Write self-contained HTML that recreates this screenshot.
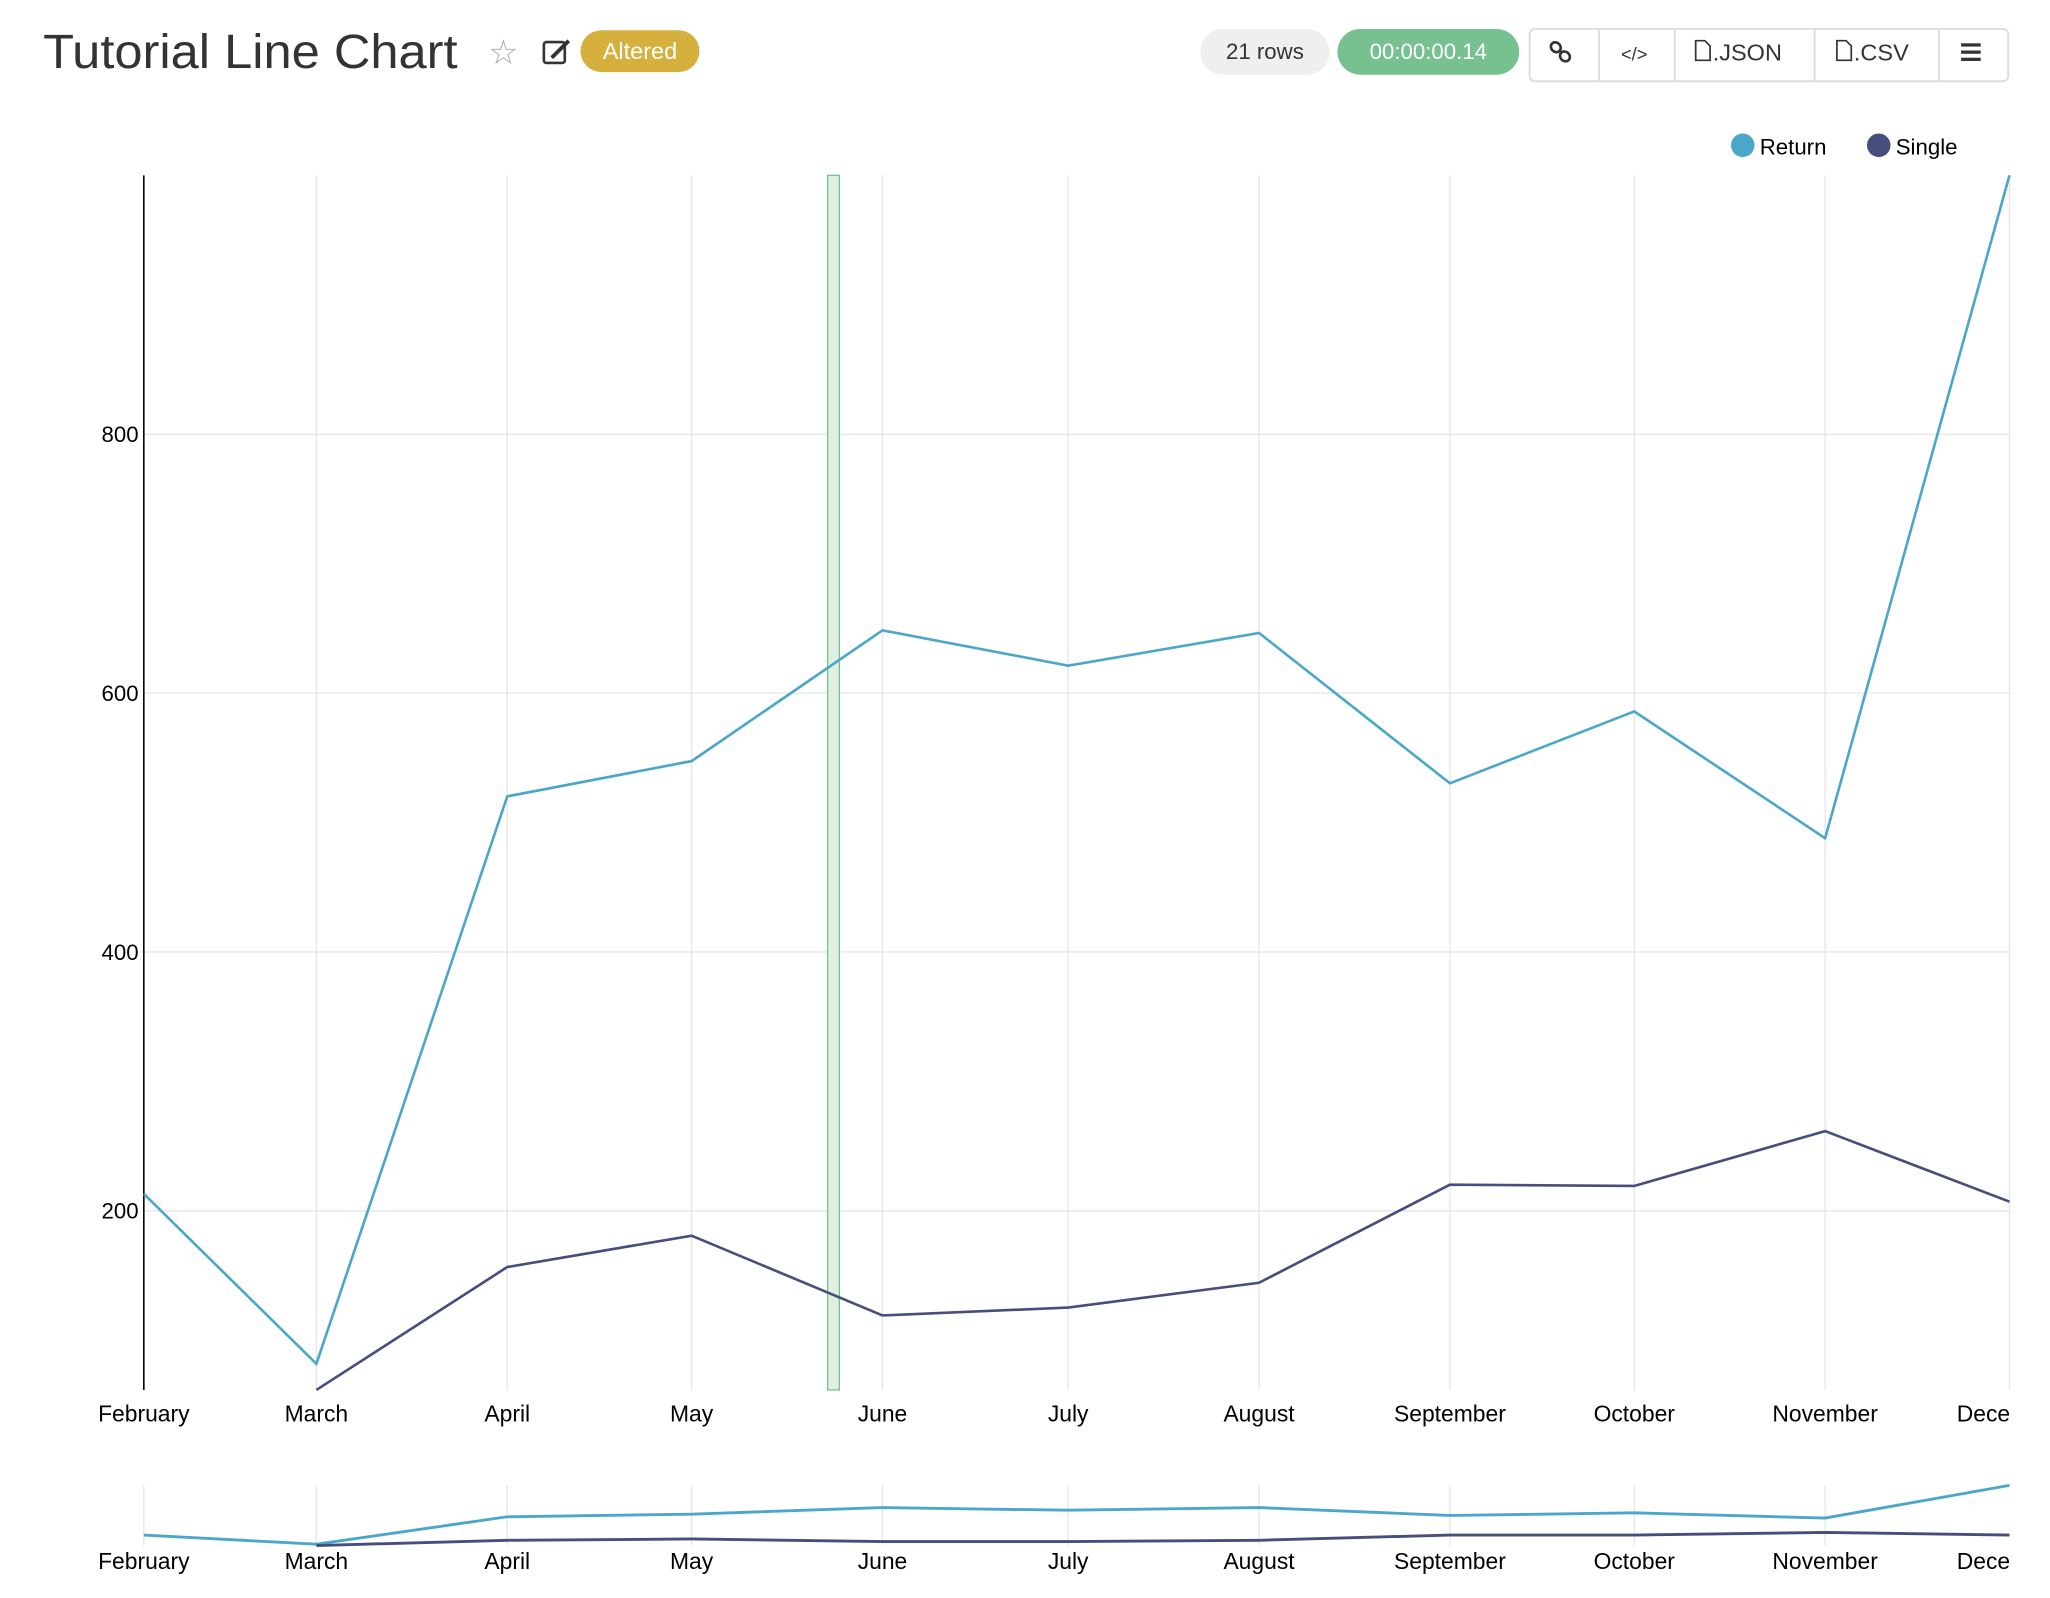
<!DOCTYPE html>
<html><head><meta charset="utf-8"><style>html,body{margin:0;padding:0;background:#fff}svg{display:block}text{font-family:"Liberation Sans",sans-serif}</style></head>
<body>
<svg width="2050" height="1598" viewBox="0 0 1568 1222" xmlns="http://www.w3.org/2000/svg">
<defs><clipPath id="c"><rect x="0" y="0" width="1538" height="1222"/></clipPath></defs>
<rect width="1568" height="1222" fill="#fff"/>
<!-- header -->
<text x="33" y="52" font-size="37" fill="#333" textLength="317" lengthAdjust="spacingAndGlyphs">Tutorial Line Chart</text>
<text x="385" y="49" font-size="26" fill="#aaa" text-anchor="middle">☆</text>
<rect x="416" y="32" width="16" height="16" rx="2" fill="none" stroke="#333" stroke-width="2"/>
<line x1="422" y1="44" x2="435" y2="31" stroke="#333" stroke-width="3"/>
<rect x="444" y="23" width="91" height="32" rx="16" fill="#d6b03c"/>
<text x="489.5" y="45" font-size="18" fill="#fff" text-anchor="middle">Altered</text>
<rect x="918" y="22" width="99" height="35" rx="17.5" fill="#efefef"/>
<text x="967.5" y="45" font-size="17" fill="#333" text-anchor="middle">21 rows</text>
<rect x="1023" y="22" width="139" height="35" rx="17.5" fill="#77c08f"/>
<text x="1092.5" y="45" font-size="17" fill="#fff" text-anchor="middle">00:00:00.14</text>
<rect x="1170" y="22" width="366" height="40" rx="4" fill="#fff" stroke="#ddd" stroke-width="1.5"/>
<g stroke="#ddd" stroke-width="1.5"><line x1="1223" y1="22" x2="1223" y2="62"/><line x1="1281" y1="22" x2="1281" y2="62"/><line x1="1388" y1="22" x2="1388" y2="62"/><line x1="1483" y1="22" x2="1483" y2="62"/></g>
<g fill="none" stroke="#333" stroke-width="2"><ellipse cx="1190" cy="36" rx="4" ry="3.5" transform="rotate(45 1190 36)"/><ellipse cx="1197" cy="43" rx="4" ry="3.5" transform="rotate(45 1197 43)"/></g>
<text x="1250" y="46" font-size="14" fill="#333" text-anchor="middle">&lt;/&gt;</text>
<path d="M1297 31 h7 l4 4 v11 h-11 z" fill="none" stroke="#333" stroke-width="1.3"/>
<text x="1310" y="46" font-size="18" fill="#333">.JSON</text>
<path d="M1405 31 h7 l4 4 v11 h-11 z" fill="none" stroke="#333" stroke-width="1.3"/>
<text x="1418" y="46" font-size="18" fill="#333">.CSV</text>
<g fill="#333"><rect x="1500" y="33" width="15" height="2.5"/><rect x="1500" y="38.5" width="15" height="2.5"/><rect x="1500" y="44" width="15" height="2.5"/></g>
<!-- legend -->
<circle cx="1333" cy="111" r="9" fill="#4aa7c9"/><text x="1346" y="118" font-size="17" fill="#000">Return</text>
<circle cx="1437" cy="111" r="9" fill="#454e7c"/><text x="1450" y="118" font-size="17" fill="#000">Single</text>
<!-- main chart grid -->
<g stroke="#e5e5e5" stroke-width="1">
<line x1="110" y1="332" x2="1537" y2="332"/><line x1="110" y1="530" x2="1537" y2="530"/><line x1="110" y1="728" x2="1537" y2="728"/><line x1="110" y1="926" x2="1537" y2="926"/>
<line x1="242" y1="134" x2="242" y2="1063"/><line x1="388" y1="134" x2="388" y2="1063"/><line x1="529" y1="134" x2="529" y2="1063"/><line x1="675" y1="134" x2="675" y2="1063"/><line x1="817" y1="134" x2="817" y2="1063"/><line x1="963" y1="134" x2="963" y2="1063"/><line x1="1109" y1="134" x2="1109" y2="1063"/><line x1="1250" y1="134" x2="1250" y2="1063"/><line x1="1396" y1="134" x2="1396" y2="1063"/><line x1="1537" y1="134" x2="1537" y2="1063"/>
</g>
<line x1="110" y1="134" x2="110" y2="1063" stroke="#000" stroke-width="1.2"/>
<g font-size="17" fill="#000" text-anchor="end"><text x="106" y="338">800</text><text x="106" y="536">600</text><text x="106" y="734">400</text><text x="106" y="932">200</text></g>
<rect x="633" y="134" width="9" height="929" fill="#dff0e3" stroke="#77c08f" stroke-width="1"/>
<polyline fill="none" stroke="#4aa7c9" stroke-width="2" points="110,913 242,1043 388,609 529,582 675,482 817,509 963,484 1109,599 1250,544 1396,641 1537,134"/>
<polyline fill="none" stroke="#454e7c" stroke-width="2" points="242,1063 388,969 529,945 675,1006 817,1000 963,981 1109,906 1250,907 1396,865 1537,919"/>
<g font-size="17.5" fill="#000" text-anchor="middle" clip-path="url(#c)">
<text x="110" y="1087">February</text><text x="242" y="1087">March</text><text x="388" y="1087">April</text><text x="529" y="1087">May</text><text x="675" y="1087">June</text><text x="817" y="1087">July</text><text x="963" y="1087">August</text><text x="1109" y="1087">September</text><text x="1250" y="1087">October</text><text x="1396" y="1087">November</text><text x="1537" y="1087">December</text>
<text x="110" y="1200">February</text><text x="242" y="1200">March</text><text x="388" y="1200">April</text><text x="529" y="1200">May</text><text x="675" y="1200">June</text><text x="817" y="1200">July</text><text x="963" y="1200">August</text><text x="1109" y="1200">September</text><text x="1250" y="1200">October</text><text x="1396" y="1200">November</text><text x="1537" y="1200">December</text>
</g>
<!-- mini chart -->
<g stroke="#e5e5e5" stroke-width="1">
<line x1="110" y1="1136" x2="110" y2="1182"/><line x1="242" y1="1136" x2="242" y2="1182"/><line x1="388" y1="1136" x2="388" y2="1182"/><line x1="529" y1="1136" x2="529" y2="1182"/><line x1="675" y1="1136" x2="675" y2="1182"/><line x1="817" y1="1136" x2="817" y2="1182"/><line x1="963" y1="1136" x2="963" y2="1182"/><line x1="1109" y1="1136" x2="1109" y2="1182"/><line x1="1250" y1="1136" x2="1250" y2="1182"/><line x1="1396" y1="1136" x2="1396" y2="1182"/>
</g>
<polyline fill="none" stroke="#4aa7c9" stroke-width="2.2" points="110,1174 242,1181 388,1160 529,1158 675,1153 817,1155 963,1153 1109,1159 1250,1157 1396,1161 1537,1136"/>
<polyline fill="none" stroke="#454e7c" stroke-width="2.2" points="242,1182 388,1178 529,1177 675,1179 817,1179 963,1178 1109,1174 1250,1174 1396,1172 1537,1174"/>
</svg>
</body></html>
